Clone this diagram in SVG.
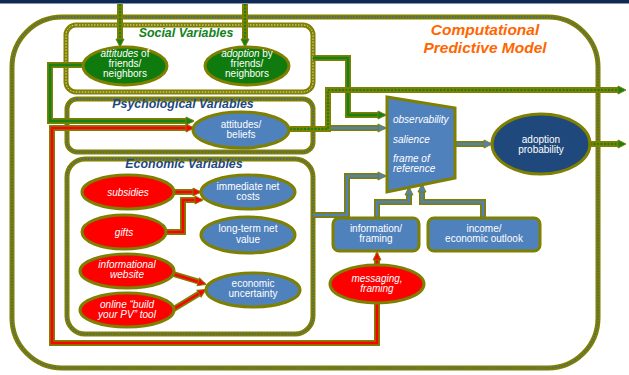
<svg xmlns="http://www.w3.org/2000/svg" width="629" height="375" viewBox="0 0 629 375">
<style>
text{font-family:"Liberation Sans",Arial,sans-serif}
.w{fill:#fff;font-size:10px;text-anchor:middle}
.wi{fill:#fff;font-size:10px;text-anchor:middle;font-style:italic}
.fi{fill:#fff;font-size:10px;font-style:italic}
.ttl{font-size:12.4px;font-weight:bold;font-style:italic;text-anchor:middle}
.ol{fill:none;stroke:#7f7f00;stroke-width:6}
.frame{fill:none;stroke:#7f7f00;stroke-width:5}
.bdot{fill:none;stroke:#3a62a8;stroke-width:1.3;stroke-dasharray:1.5 1.5}
.wdot{fill:none;stroke:#e8e8c0;stroke-width:1;stroke-dasharray:1.5 1.5}
.g{fill:none;stroke:#12821a;stroke-width:2.6}
.gd{fill:none;stroke:#12821a;stroke-width:2;stroke-dasharray:2 1.5}
.r{fill:none;stroke:#ff0000;stroke-width:2.6}
.b{fill:none;stroke:#4f81bd;stroke-width:2.6}
.eg{fill:#0f7b0f;stroke:#7f7f00;stroke-width:3}
.er{fill:#ff0000;stroke:#7f7f00;stroke-width:3}
.eb{fill:#4f81bd;stroke:#7f7f00;stroke-width:3}
.org{font-size:15.5px;font-weight:bold;font-style:italic;fill:#ff6600;text-anchor:middle}
</style>
<defs>
<marker id="ag" viewBox="0 0 10 10" refX="8" refY="5" markerWidth="10" markerHeight="10" markerUnits="userSpaceOnUse" orient="auto"><path d="M1,1 L9,5 L1,9 z" fill="#12821a" stroke="#7f7f00" stroke-width="1"/></marker>
<marker id="ar" viewBox="0 0 10 10" refX="8" refY="5" markerWidth="10" markerHeight="10" markerUnits="userSpaceOnUse" orient="auto"><path d="M1,1 L9,5 L1,9 z" fill="#ff0000" stroke="#7f7f00" stroke-width="1"/></marker>
<marker id="ab" viewBox="0 0 10 10" refX="8" refY="5" markerWidth="10" markerHeight="10" markerUnits="userSpaceOnUse" orient="auto"><path d="M1,1 L9,5 L1,9 z" fill="#4f81bd" stroke="#7f7f00" stroke-width="1"/></marker>
</defs>
<rect x="0" y="0" width="629" height="3.5" fill="#0f2a52"/>

<g id="outer-frame">
<rect x="12" y="17" width="586" height="351" rx="50" class="frame"/>
<rect x="12" y="17" width="586" height="351" rx="50" class="bdot"/>
<text x="485" y="35" class="org">Computational</text>
<text x="485" y="53" class="org">Predictive Model</text>
</g>

<g id="social-box">
<rect x="66" y="25" width="247" height="67" rx="10" class="frame" stroke-width="4"/>
<rect x="66" y="25" width="247" height="67" rx="10" class="wdot"/>
<text x="186" y="37" class="ttl" fill="#12821a">Social Variables</text>
</g>
<g id="psych-box">
<rect x="67" y="99" width="246" height="53" rx="10" class="frame" stroke-width="4"/>
<rect x="67" y="99" width="246" height="53" rx="10" class="bdot"/>
<text x="183" y="108" class="ttl" fill="#1f497d">Psychological Variables</text>
</g>
<g id="econ-box">
<rect x="67" y="159" width="246" height="175" rx="18" class="frame" stroke-width="4"/>
<rect x="67" y="159" width="246" height="175" rx="18" class="bdot"/>
<text x="184" y="168" class="ttl" fill="#1f497d">Economic Variables</text>
</g>

<g id="connectors">
<path class="ol" d="M120,4 V41"/><path class="gd" d="M120,4 V46" marker-end="url(#ag)"/>
<path class="ol" d="M245,4 V41"/><path class="gd" d="M245,4 V46" marker-end="url(#ag)"/>
<path class="ol" d="M83,65 H50 V121 H188"/><path class="g" d="M83,65 H50 V121 H193" marker-end="url(#ag)"/>
<path class="ol" d="M377,303 V343 H52 V128 H188"/><path class="r" d="M377,303 V343 H52 V128 H193" marker-end="url(#ar)"/>
<path class="ol" d="M313,58 H348 V115 H380"/><path class="g" d="M313,58 H348 V115 H385" marker-end="url(#ag)"/>
<path class="ol" d="M329,128 H380"/><path class="b" d="M329,128 H385" marker-end="url(#ab)"/>
<path class="ol" d="M290,129 H328 V90 H620"/><path class="gd" d="M290,129 H328 V90 H625" marker-end="url(#ag)"/>
<path class="ol" d="M313,215 H347 V176 H380"/><path class="b" d="M313,215 H347 V176 H385" marker-end="url(#ab)"/>
<path class="ol" d="M455,144 H486"/><path class="b" d="M455,144 H491" marker-end="url(#ab)"/>
<path class="ol" d="M590,144 H620"/><path class="gd" d="M590,144 H625" marker-end="url(#ag)"/>
<path class="ol" d="M377,218 V202 H409 V193"/><path class="b" d="M377,218 V202 H409 V188" marker-end="url(#ab)"/>
<path class="ol" d="M483,218 V202 H422 V190"/><path class="b" d="M483,218 V202 H422 V185" marker-end="url(#ab)"/>
<path class="ol" d="M377,265 V258"/><path class="r" d="M377,265 V253" marker-end="url(#ar)"/>
<path class="ol" d="M174,192 H195"/><path class="r" d="M174,192 H200" marker-end="url(#ar)"/>
<path class="ol" d="M166,232 H183 V200 H197"/><path class="r" d="M166,232 H183 V200 H202" marker-end="url(#ar)"/>
<path class="ol" d="M170,273 L200,282"/><path class="r" d="M170,273 L205,284" marker-end="url(#ar)"/>
<path class="ol" d="M172,310 L200,293"/><path class="r" d="M172,310 L205,290" marker-end="url(#ar)"/>
</g>

<g id="attitudes-friends">
<ellipse cx="125" cy="66" rx="42" ry="19" class="eg"/>
<text x="125" y="57" class="w"><tspan font-style="italic">attitudes</tspan> of</text>
<text x="125" y="67" class="w">friends/</text>
<text x="125" y="77" class="w">neighbors</text>
</g>
<g id="adoption-friends">
<ellipse cx="247" cy="66" rx="42" ry="19" class="eg"/>
<text x="247" y="57" class="w"><tspan font-style="italic">adoption</tspan> by</text>
<text x="247" y="67" class="w">friends/</text>
<text x="247" y="77" class="w">neighbors</text>
</g>
<g id="attitudes-beliefs">
<ellipse cx="241" cy="130" rx="48" ry="18" class="eb"/>
<text x="241" y="128" class="w">attitudes/</text>
<text x="241" y="138" class="w">beliefs</text>
</g>
<g id="subsidies">
<ellipse cx="128" cy="192" rx="46" ry="17" class="er"/>
<text x="128" y="196" class="wi">subsidies</text>
</g>
<g id="gifts">
<ellipse cx="124" cy="232" rx="42" ry="17" class="er"/>
<text x="124" y="236" class="wi">gifts</text>
</g>
<g id="informational-website">
<ellipse cx="127" cy="271" rx="47" ry="17" class="er"/>
<text x="127" y="268" class="wi">informational</text>
<text x="127" y="278" class="wi">website</text>
</g>
<g id="online-tool">
<ellipse cx="127" cy="310" rx="47" ry="17" class="er"/>
<text x="127" y="308" class="wi">online “build</text>
<text x="127" y="318" class="wi">your PV” tool</text>
</g>
<g id="immediate-costs">
<ellipse cx="248" cy="192" rx="47" ry="17" class="eb"/>
<text x="248" y="190" class="w">immediate net</text>
<text x="248" y="200" class="w">costs</text>
</g>
<g id="longterm-value">
<ellipse cx="248" cy="235" rx="47" ry="18" class="eb"/>
<text x="248" y="232" class="w">long-term net</text>
<text x="248" y="243" class="w">value</text>
</g>
<g id="economic-uncertainty">
<ellipse cx="253" cy="290" rx="47" ry="17" class="eb"/>
<text x="253" y="287" class="w">economic</text>
<text x="253" y="297" class="w">uncertainty</text>
</g>
<g id="funnel">
<polygon points="387,97 455,108 455,178 387,192" fill="#4f81bd" stroke="#7f7f00" stroke-width="3"/>
<text x="393" y="123" class="fi">observability</text>
<text x="393" y="143" class="fi">salience</text>
<text x="393" y="162" class="fi">frame of</text>
<text x="393" y="172" class="fi">reference</text>
</g>
<g id="adoption-probability">
<ellipse cx="541" cy="144" rx="49" ry="30" fill="#1f497d" stroke="#7f7f00" stroke-width="3"/>
<text x="541" y="143" class="w">adoption</text>
<text x="541" y="153" class="w">probability</text>
</g>
<g id="information-framing">
<rect x="333" y="218" width="86" height="33" rx="6" fill="#4f81bd" stroke="#7f7f00" stroke-width="3"/>
<text x="376" y="232" class="w">information/</text>
<text x="376" y="242" class="w">framing</text>
</g>
<g id="income-outlook">
<rect x="428" y="218" width="112" height="33" rx="6" fill="#4f81bd" stroke="#7f7f00" stroke-width="3"/>
<text x="484" y="232" class="w">income/</text>
<text x="484" y="242" class="w">economic outlook</text>
</g>
<g id="messaging-framing">
<ellipse cx="377" cy="284" rx="47" ry="19" class="er"/>
<text x="377" y="282" class="wi">messaging,</text>
<text x="377" y="292" class="wi">framing</text>
</g>
</svg>
